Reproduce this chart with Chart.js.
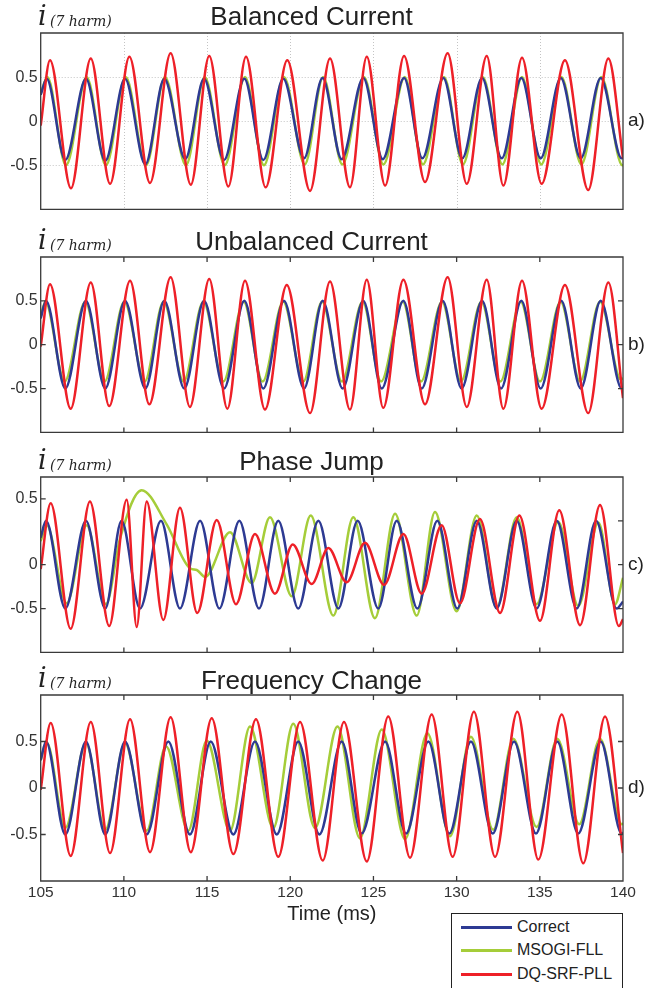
<!DOCTYPE html>
<html>
<head>
<meta charset="utf-8">
<script src="https://cdn.jsdelivr.net/npm/chart.js@4.4.0/dist/chart.umd.min.js"></script>
<style>
  body { margin: 0; background: #fff; }
  #page { position: relative; width: 665px; height: 988px; overflow: hidden; font-family: "Liberation Sans", Arial, sans-serif; }
  .panel { position: absolute; left: 0; width: 665px; }
  #legend { position: absolute; left: 451px; top: 913px; width: 170px; height: 90px; border: 1px solid #222; background: #fff; }
  #legend .row { position: absolute; left: 0; height: 20px; line-height: 20px; font-size: 16px; color: #222; white-space: nowrap; }
  #legend .swatch { position: absolute; left: 9px; top: 9px; width: 51px; height: 3px; }
  #legend .name { position: absolute; left: 65px; top: 0; }
</style>
</head>
<body>
<div id="page">
  <div class="panel" style="top:0px;height:222px"><canvas id="panelA"></canvas></div>
  <div class="panel" style="top:224px;height:221px"><canvas id="panelB"></canvas></div>
  <div class="panel" style="top:444px;height:221px"><canvas id="panelC"></canvas></div>
  <div class="panel" style="top:662px;height:278px"><canvas id="panelD"></canvas></div>
  <div id="legend"></div>
</div>
<script>
// series names and colours (legend order)
const seriesNames = ['Correct', 'MSOGI-FLL', 'DQ-SRF-PLL'];
const seriesColors = ['#2d3a93', '#a5cd39', '#ee2028'];

// axis ticks
const xTicks = [105, 110, 115, 120, 125, 130, 135, 140];
const yTickValues = [-0.5, 0, 0.5];
const yTickLabels = ['-0.5', '0', '0.5'];
const jumpLabelValues = [-0.5, 0, 0.75]; // the "0.5" label sits higher in panel c

// [time (ms), current] - peaks/troughs
// a) Balanced Current
const balCorrect = [[105, 0.30], [105.36, 0.48], [106.48, -0.44], [107.72, 0.48], [108.88, -0.45], [110.07, 0.48], [111.29, -0.49],
  [112.43, 0.48], [113.69, -0.43], [114.82, 0.48], [116.02, -0.44], [117.24, 0.48], [118.38, -0.44], [119.58, 0.48], [120.83, -0.42],
  [121.94, 0.49], [123.09, -0.43], [124.39, 0.49], [125.56, -0.43], [126.84, 0.49], [127.94, -0.42], [129.20, 0.49], [130.34, -0.42],
  [131.53, 0.49], [132.71, -0.42], [133.89, 0.49], [135.05, -0.42], [136.26, 0.49], [137.46, -0.42], [138.66, 0.49], [139.92, -0.42], [140, -0.41]];
const balMsogi = [[105, 0.31], [105.40, 0.50], [106.52, -0.50], [107.76, 0.50], [108.92, -0.50], [110.11, 0.50], [111.33, -0.50],
  [112.47, 0.50], [113.73, -0.50], [114.86, 0.50], [116.06, -0.50], [117.28, 0.50], [118.42, -0.50], [119.62, 0.50], [120.87, -0.49],
  [121.98, 0.50], [123.13, -0.49], [124.43, 0.50], [125.60, -0.49], [126.88, 0.50], [127.98, -0.49], [129.24, 0.50], [130.38, -0.49],
  [131.57, 0.50], [132.75, -0.49], [133.93, 0.50], [135.09, -0.49], [136.30, 0.50], [137.50, -0.49], [138.70, 0.50], [139.96, -0.50], [140, -0.50]];
const balDqsrf = [[105, -0.05], [105.56, 0.69], [106.82, -0.76], [108.01, 0.71], [109.17, -0.71], [110.33, 0.73], [111.57, -0.70],
  [112.81, 0.77], [114.02, -0.72], [115.13, 0.74], [116.28, -0.74], [117.34, 0.73], [118.52, -0.75], [119.82, 0.69], [121.19, -0.79],
  [122.39, 0.71], [123.59, -0.75], [124.60, 0.73], [125.70, -0.73], [126.84, 0.74], [128.10, -0.69], [129.46, 0.77], [130.61, -0.71],
  [131.81, 0.74], [132.81, -0.73], [133.93, 0.72], [135.11, -0.71], [136.51, 0.69], [137.91, -0.78], [139.12, 0.71], [140, -0.42]];

// b) Unbalanced Current
const unbCorrect = [[105, 0.30], [105.32, 0.50], [106.48, -0.50], [107.72, 0.50], [108.88, -0.50], [110.07, 0.50], [111.29, -0.50],
  [112.43, 0.50], [113.63, -0.50], [114.82, 0.50], [116.02, -0.50], [117.24, 0.50], [118.38, -0.50], [119.62, 0.50], [120.83, -0.50],
  [121.95, 0.50], [123.15, -0.50], [124.39, 0.50], [125.50, -0.50], [126.80, 0.50], [127.90, -0.50], [129.16, 0.50], [130.30, -0.50],
  [131.53, 0.50], [132.67, -0.50], [133.89, 0.50], [135.05, -0.50], [136.29, 0.50], [137.46, -0.50], [138.66, 0.50], [139.92, -0.50], [140, -0.49]];
const unbMsogi = [[105, 0.32], [105.28, 0.49], [106.44, -0.42], [107.68, 0.49], [108.84, -0.42], [110.03, 0.49], [111.25, -0.42],
  [112.39, 0.49], [113.59, -0.42], [114.78, 0.49], [115.98, -0.42], [117.20, 0.49], [118.34, -0.42], [119.58, 0.49], [120.79, -0.42],
  [121.91, 0.49], [123.11, -0.42], [124.35, 0.49], [125.46, -0.42], [126.76, 0.49], [127.86, -0.42], [129.12, 0.49], [130.26, -0.42],
  [131.49, 0.49], [132.63, -0.42], [133.85, 0.49], [135.01, -0.42], [136.25, 0.49], [137.42, -0.42], [138.62, 0.49], [139.88, -0.40], [140, -0.38]];
const unbDqsrf = [[105, -0.02], [105.56, 0.69], [106.80, -0.73], [108.01, 0.71], [109.12, -0.70], [110.37, 0.73], [111.53, -0.68],
  [112.81, 0.77], [113.97, -0.71], [115.13, 0.75], [116.22, -0.73], [117.28, 0.73], [118.48, -0.74], [119.79, 0.68], [121.19, -0.78],
  [122.39, 0.72], [123.59, -0.74], [124.60, 0.74], [125.59, -0.72], [126.80, 0.74], [128.10, -0.68], [129.46, 0.77], [130.61, -0.71],
  [131.81, 0.74], [132.81, -0.73], [133.93, 0.73], [135.11, -0.73], [136.51, 0.68], [137.91, -0.78], [139.12, 0.71], [140, -0.61]];

// c) Phase Jump
const jumpCorrect = [[105, 0.31], [105.32, 0.50], [106.48, -0.50], [107.72, 0.50], [108.88, -0.50], [109.86, 0.50], [110.97, -0.50],
  [112.23, 0.50], [113.37, -0.50], [114.58, 0.50], [115.74, -0.50], [116.94, 0.50], [118.12, -0.50], [119.28, 0.50], [120.48, -0.50],
  [121.69, 0.50], [122.89, -0.50], [124.05, 0.50], [125.29, -0.50], [126.40, 0.50], [127.64, -0.50], [128.84, 0.50], [130.04, -0.50],
  [131.21, 0.50], [132.41, -0.50], [133.61, 0.50], [134.81, -0.50], [136.02, 0.50], [137.22, -0.50], [138.38, 0.50], [139.62, -0.50], [140, -0.42]];
const jumpMsogi = [[105, 0.27], [105.36, 0.45], [106.56, -0.44], [107.76, 0.45], [108.92, -0.45], [109.77, 0.30], [111.07, 0.85],
  [112.57, 0.46], [113.97, -0.04], [114.38, -0.06], [114.88, -0.14], [116.38, 0.37], [117.68, -0.21], [118.78, 0.54], [120.09, -0.36],
  [121.23, 0.56], [122.59, -0.58], [123.79, 0.54], [125.09, -0.61], [126.30, 0.58], [127.60, -0.58], [128.70, 0.60], [130.00, -0.53],
  [131.21, 0.56], [132.41, -0.49], [133.61, 0.54], [134.81, -0.45], [136.11, 0.49], [137.31, -0.47], [138.52, 0.48], [139.52, -0.45], [140, -0.15]];
const jumpDqsrf = [[105, -0.05], [105.60, 0.70], [106.80, -0.73], [107.96, 0.72], [109.12, -0.70], [110.17, 0.74], [110.77, -0.71],
  [111.37, 0.72], [112.37, -0.63], [113.37, 0.65], [114.41, -0.55], [115.58, 0.51], [116.74, -0.45], [117.88, 0.35], [119.08, -0.33],
  [120.15, 0.23], [121.29, -0.22], [122.29, 0.19], [123.39, -0.20], [124.49, 0.25], [125.64, -0.23], [126.80, 0.35], [127.90, -0.33],
  [129.10, 0.45], [130.20, -0.44], [131.40, 0.52], [132.61, -0.55], [133.77, 0.56], [135.01, -0.64], [136.17, 0.62], [137.42, -0.69],
  [138.62, 0.68], [139.75, -0.70], [140, -0.62]];

// d) Frequency Change
const freqCorrect = [[105, 0.30], [105.32, 0.50], [106.48, -0.50], [107.72, 0.50], [108.88, -0.50], [110.07, 0.50], [111.37, -0.50],
  [112.67, 0.50], [113.97, -0.50], [115.22, 0.50], [116.58, -0.50], [117.88, 0.50], [119.19, -0.50], [120.48, 0.50], [121.75, -0.50],
  [123.09, 0.50], [124.29, -0.49], [125.70, 0.50], [126.96, -0.49], [128.30, 0.50], [129.56, -0.49], [130.86, 0.50], [132.17, -0.49],
  [133.45, 0.50], [134.77, -0.49], [136.05, 0.50], [137.31, -0.49], [138.66, 0.50], [139.92, -0.49], [140, -0.48]];
const freqMsogi = [[105, 0.30], [105.36, 0.49], [106.48, -0.43], [107.72, 0.48], [108.88, -0.45], [110.07, 0.48], [111.37, -0.46],
  [112.53, 0.45], [113.87, -0.46], [114.98, 0.51], [116.38, -0.46], [117.58, 0.66], [118.98, -0.43], [120.18, 0.69], [121.49, -0.43],
  [122.84, 0.66], [124.19, -0.54], [125.50, 0.63], [126.90, -0.55], [128.24, 0.59], [129.60, -0.52], [130.86, 0.55], [132.20, -0.45],
  [133.41, 0.53], [134.81, -0.42], [136.05, 0.53], [137.37, -0.39], [138.62, 0.53], [139.92, -0.39], [140, -0.38]];
const freqDqsrf = [[105, -0.02], [105.60, 0.70], [106.80, -0.73], [108.01, 0.71], [109.17, -0.70], [110.37, 0.74], [111.57, -0.69],
  [112.81, 0.76], [114.02, -0.69], [115.28, 0.75], [116.58, -0.71], [117.94, 0.74], [119.28, -0.74], [120.59, 0.71], [121.95, -0.78],
  [123.23, 0.71], [124.60, -0.79], [125.89, 0.77], [127.20, -0.75], [128.50, 0.79], [129.76, -0.74], [131.04, 0.82], [132.31, -0.74],
  [133.65, 0.82], [134.91, -0.77], [136.32, 0.79], [137.61, -0.81], [138.92, 0.77], [140, -0.70]];

const FONT = '"Liberation Sans", Arial, sans-serif';

// box, inner tick marks, dotted grid, symbol and panel tag
const panelDecor = {
  id: 'panelDecor',
  beforeDatasetsDraw(chart, args, opts) {
    if (!opts.grid) return;
    const { ctx, chartArea: a, scales: { x, y } } = chart;
    ctx.save();
    ctx.strokeStyle = '#c4c4c4';
    ctx.lineWidth = 1;
    ctx.setLineDash([1, 2]);
    ctx.beginPath();
    xTicks.slice(1, -1).forEach(v => {
      const px = Math.round(x.getPixelForValue(v)) + 0.5;
      ctx.moveTo(px, a.top); ctx.lineTo(px, a.bottom);
    });
    yTickValues.forEach(v => {
      const py = Math.round(y.getPixelForValue(v)) + 0.5;
      ctx.moveTo(a.left, py); ctx.lineTo(a.right, py);
    });
    ctx.stroke();
    ctx.restore();
  },
  afterDatasetsDraw(chart, args, opts) {
    const { ctx, chartArea: a, scales: { x, y } } = chart;
    ctx.save();
    ctx.strokeStyle = '#3a3a3a';
    ctx.lineWidth = 1.3;
    ctx.beginPath();
    if (!opts.grid) {
      const t = 5;
      xTicks.slice(1, -1).forEach(v => {
        const px = x.getPixelForValue(v);
        ctx.moveTo(px, a.top); ctx.lineTo(px, a.top + t);
        ctx.moveTo(px, a.bottom); ctx.lineTo(px, a.bottom - t);
      });
      (opts.leftTicks || yTickValues).forEach(v => {
        const py = y.getPixelForValue(v);
        ctx.moveTo(a.left, py); ctx.lineTo(a.left + t, py);
      });
      yTickValues.forEach(v => {
        const py = y.getPixelForValue(v);
        ctx.moveTo(a.right, py); ctx.lineTo(a.right - t, py);
      });
    }
    ctx.rect(a.left, a.top, a.right - a.left, a.bottom - a.top);
    ctx.stroke();

    ctx.fillStyle = '#222';
    ctx.textBaseline = 'alphabetic';
    ctx.textAlign = 'left';
    ctx.font = 'italic 27px "DejaVu Serif"';
    ctx.fillText('i', 38, a.top - 8);
    ctx.font = 'italic 14px "DejaVu Serif"';
    ctx.fillText('(7 harm)', 50, a.top - 7);

    ctx.font = '19px ' + FONT;
    ctx.textBaseline = 'middle';
    ctx.fillText(opts.tag, a.right + 5, y.getPixelForValue(0));
    ctx.restore();
  }
};

function toXY(pairs) {
  return pairs.map(p => ({ x: p[0], y: p[1] }));
}

function makePanel(id, title, series, cfg) {
  const labelValues = cfg.labelValues || yTickValues;
  return new Chart(document.getElementById(id), {
    type: 'line',
    data: {
      datasets: series.map((s, i) => ({
        label: seriesNames[i],
        data: toXY(s),
        borderColor: seriesColors[i],
        order: [1, 2, 0][i] // red on top, green underneath
      }))
    },
    options: {
      responsive: true,
      maintainAspectRatio: false,
      animation: false,
      events: [],
      elements: {
        line: { borderWidth: 2.5, cubicInterpolationMode: 'monotone' },
        point: { radius: 0 }
      },
      layout: { padding: { left: 0, right: 42, top: 0, bottom: cfg.padBottom } },
      plugins: {
        legend: { display: false },
        tooltip: { enabled: false },
        title: {
          display: true,
          text: title,
          color: '#222',
          font: { family: FONT, size: 26, weight: 'normal', lineHeight: 1 },
          padding: { top: cfg.titleTop, bottom: 33 - 26 - cfg.titleTop }
        },
        panelDecor: { tag: cfg.tag, grid: !!cfg.grid, leftTicks: cfg.labelValues }
      },
      scales: {
        x: {
          type: 'linear',
          min: 105,
          max: 140,
          display: !!cfg.showX,
          afterBuildTicks: s => { s.ticks = xTicks.map(v => ({ value: v })); },
          afterFit: s => { if (cfg.showX) s.height = 59; },
          grid: { display: false, drawTicks: false },
          border: { display: false },
          ticks: { color: '#333', font: { family: FONT, size: 15.5 }, padding: 2.5, maxRotation: 0, autoSkip: false },
          title: {
            display: true,
            text: 'Time (ms)',
            color: '#222',
            font: { family: FONT, size: 20 },
            padding: { top: 0, bottom: 14 }
          }
        },
        y: {
          min: -1,
          max: 1,
          afterBuildTicks: s => { s.ticks = labelValues.map(v => ({ value: v })); },
          afterFit: s => { s.width = 40.7; },
          grid: { display: false, drawTicks: false },
          border: { display: false },
          ticks: {
            color: '#333',
            font: { family: FONT, size: 16 },
            padding: 3,
            autoSkip: false,
            callback: (v, i) => yTickLabels[i]
          }
        }
      }
    },
    plugins: [panelDecor]
  });
}

makePanel('panelA', 'Balanced Current', [balCorrect, balMsogi, balDqsrf], { tag: 'a)', grid: true, padBottom: 2, titleTop: 5 });
makePanel('panelB', 'Unbalanced Current', [unbCorrect, unbMsogi, unbDqsrf], { tag: 'b)', padBottom: 2, titleTop: 6.3 });
makePanel('panelC', 'Phase Jump', [jumpCorrect, jumpMsogi, jumpDqsrf], { tag: 'c)', padBottom: 2, titleTop: 6.3, labelValues: jumpLabelValues });
makePanel('panelD', 'Frequency Change', [freqCorrect, freqMsogi, freqDqsrf], { tag: 'd)', padBottom: 0, titleTop: 7, showX: true });

// legend box
const legend = document.getElementById('legend');
seriesNames.forEach((name, i) => {
  const row = document.createElement('div');
  row.className = 'row';
  row.style.top = (2.5 + 23.7 * i) + 'px';
  row.innerHTML = '<span class="swatch" style="background:' + seriesColors[i] + '"></span><span class="name">' + name + '</span>';
  legend.appendChild(row);
});
</script>
</body>
</html>
